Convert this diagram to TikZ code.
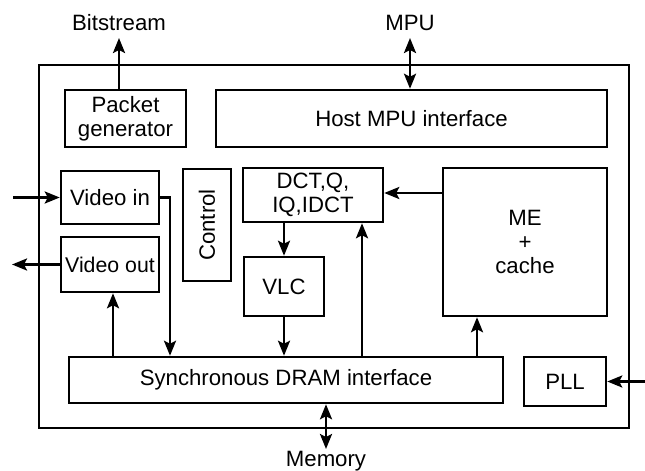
\documentclass[tikz,border=0pt]{standalone}
\usepackage{fontspec}
\setmainfont{Liberation Sans}
\usetikzlibrary{arrows.meta}
\tikzset{
  blk/.style={draw, line width=2.5pt, inner sep=0pt, align=center,
    font=\fontsize{22.2}{24}\selectfont},
  lbl/.style={inner sep=0pt, font=\fontsize{22.2}{24}\selectfont},
  arr/.style={line width=2.5pt, -{Stealth[length=15pt,width=12pt,inset=3pt]}},
  dbl/.style={line width=2.5pt, {Stealth[length=15pt,width=12pt,inset=3pt]}-{Stealth[length=15pt,width=12pt,inset=3pt]}},
}
\begin{document}
\begin{tikzpicture}[x=1pt,y=-1pt]
\useasboundingbox (0,0) rectangle (645,471);
\fill[white] (0,0) rectangle (645,471);

% chip outline
\node[blk, minimum width=590pt, minimum height=363pt] (chip) at (334,246.5) {};

% functional blocks
\node[blk, minimum width=121pt, minimum height=57pt] (pg) at (125.5,118.5) {Packet\\generator};
\node[blk, minimum width=391pt, minimum height=57pt] (host) at (411.5,118.5) {Host MPU interface};
\node[blk, minimum width=98pt, minimum height=53pt] (vin) at (110,197.5) {Video in};
\node[blk, minimum width=98pt, minimum height=55pt, font=\fontsize{21.3}{24}\selectfont] (vout) at (110,264.5) {Video out};
\node[blk, minimum width=48pt, minimum height=112pt] (ctrl) at (207,225) {\rotatebox{90}{Control}};
\node[blk, minimum width=140pt, minimum height=54pt] (dct) at (313,195) {DCT,Q,\\IQ,IDCT};
\node[blk, minimum width=80pt, minimum height=59pt] (vlc) at (284,286.5) {VLC};
\node[blk, minimum width=164pt, minimum height=148pt] (me) at (525,242) {ME\\+\\cache};
\node[blk, minimum width=434pt, minimum height=46pt] (sdram) at (286,380) {Synchronous DRAM interface};
\node[blk, minimum width=82pt, minimum height=49pt] (pll) at (565,381.5) {PLL};

% external terminals
\coordinate (bs) at (119,38);
\coordinate (mpu) at (410,38);
\coordinate (mem) at (326,449);
\coordinate (vsrc) at (13,0);
\coordinate (vdst) at (12,0);
\coordinate (clk) at (645,0);
\node[lbl] (bslbl) at (119,23) {Bitstream};
\node[lbl] (mpulbl) at (410,23) {MPU};
\node[lbl, anchor=base] (memlbl) at (326,466) {Memory};

% internal routing columns
\coordinate (cvin) at (170,0);
\coordinate (cvout) at (113,0);
\coordinate (cdct) at (362,0);
\coordinate (cme) at (477,0);
\coordinate (rme) at (0,193);

% connectors
\draw[arr] (pg.north -| bs) -- (bs);
\draw[dbl] (host.north -| mpu) -- (mpu);
\draw[arr] (vin.west -| vsrc) -- (vin.west);
\draw[arr] (vin.east) -| (sdram.north -| cvin);
\draw[arr] (vout.west) -- (vout.west -| vdst);
\draw[arr] (sdram.north -| cvout) -- (vout.south -| cvout);
\draw[arr] (dct.south -| vlc.north) -- (vlc.north);
\draw[arr] (vlc.south) -- (vlc.south |- sdram.north);
\draw[arr] (sdram.north -| cdct) -- (dct.south -| cdct);
\draw[arr] (sdram.north -| cme) -- (me.south -| cme);
\draw[arr] (me.west |- rme) -- (dct.east |- rme);
\draw[arr] (pll.east -| clk) -- (pll.east);
\draw[dbl] (sdram.south -| mem) -- (mem);
\end{tikzpicture}
\end{document}
